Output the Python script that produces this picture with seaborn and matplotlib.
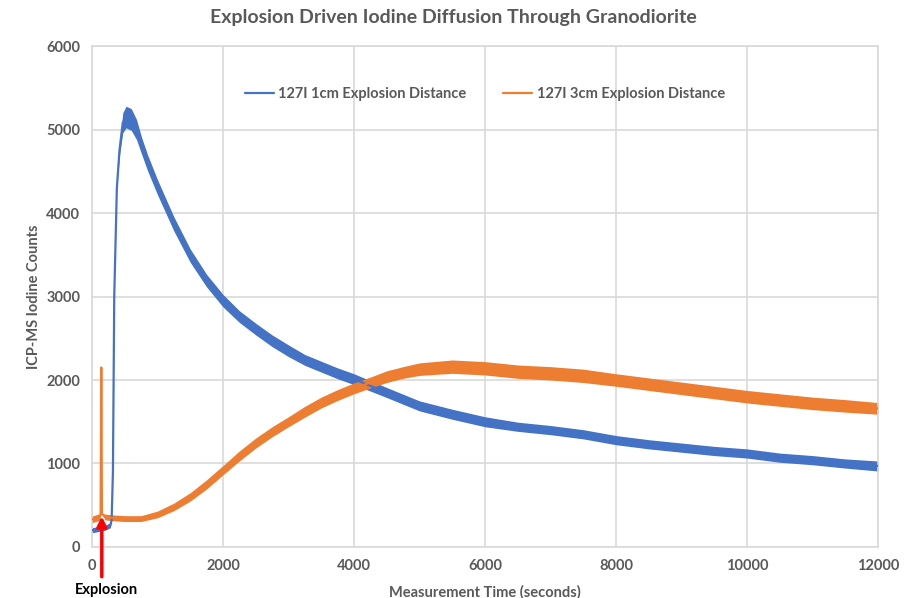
import numpy as np
import pandas as pd
import matplotlib
matplotlib.use('Agg')
import matplotlib.pyplot as plt
import seaborn as sns

# values
time_1cm = [0, 100, 200, 280, 300, 320, 340, 380, 420, 470, 520, 600, 680, 760,
            850, 1000, 1250, 1500, 1750, 2000, 2250, 2500, 2750, 3000, 3250,
            3500, 3750, 4000, 4500, 5000, 5500, 6000, 6500, 7000, 7500, 8000,
            8500, 9000, 9500, 10000, 10500, 11000, 11500, 12000]
counts_1cm = [200, 215, 230, 260, 320, 900, 3000, 4300, 4750, 5080, 5150, 5120,
              5000, 4800, 4600, 4310, 3870, 3490, 3190, 2950, 2760, 2610, 2470,
              2350, 2240, 2160, 2080, 2010, 1850, 1690, 1590, 1500, 1440, 1400,
              1350, 1280, 1230, 1190, 1150, 1120, 1070, 1040, 1000, 970]
# half thickness of the noisy band
spread_1cm = [30, 30, 30, 30, 10, 0, 0, 0, 60, 120, 130, 130, 120, 100, 95, 90,
              85, 80, 75, 75, 70, 70, 70, 70, 65, 65, 65, 65, 60, 60, 60, 60, 55,
              55, 55, 55, 55, 55, 55, 55, 55, 55, 55, 60]

time_3cm = [0, 60, 120, 132, 142, 152, 200, 300, 500, 750, 1000, 1250, 1500,
            1750, 2000, 2250, 2500, 2750, 3000, 3250, 3500, 3750, 4000, 4250,
            4500, 4750, 5000, 5500, 6000, 6500, 7000, 7500, 8000, 8500, 9000,
            9500, 10000, 10500, 11000, 11500, 12000]
counts_3cm = [330, 345, 360, 380, 2150, 400, 360, 350, 340, 340, 390, 480, 600,
              750, 920, 1090, 1245, 1380, 1500, 1620, 1730, 1820, 1900, 1970,
              2040, 2090, 2130, 2160, 2140, 2100, 2080, 2050, 2000, 1950, 1900,
              1850, 1800, 1760, 1720, 1690, 1660]
spread_3cm = [40, 40, 40, 0, 0, 0, 35, 35, 35, 35, 40, 45, 50, 55, 55, 60, 60,
              60, 60, 65, 65, 65, 65, 65, 70, 70, 75, 80, 80, 80, 80, 80, 75, 75,
              75, 75, 75, 75, 75, 75, 70]

labels = ['127I 1cm Explosion Distance', '127I 3cm Explosion Distance']
colors = ['#4472C4', '#ED7D31']

df = pd.concat([
    pd.DataFrame({'time': time_1cm, 'counts': counts_1cm, 'spread': spread_1cm, 'series': labels[0]}),
    pd.DataFrame({'time': time_3cm, 'counts': counts_3cm, 'spread': spread_3cm, 'series': labels[1]}),
])

sns.set_style('white')
plt.rcParams['font.family'] = ['Lato', 'DejaVu Sans']
grey = '#595959'

fig = plt.figure(figsize=(9.07, 5.98), dpi=100)
ax = fig.add_axes([0.1014, 0.0853, 0.8666, 0.8377])

sns.lineplot(data=df, x='time', y='counts', hue='series', palette=colors,
             linewidth=1.6, ax=ax, zorder=3)
for lab, col in zip(labels, colors):
    sub = df[df.series == lab]
    ax.fill_between(sub.time, sub.counts - sub.spread, sub.counts + sub.spread,
                    color=col, lw=0, zorder=2)

ax.set_xlim(0, 12000)
ax.set_ylim(0, 6000)
ax.set_xticks(range(0, 12001, 2000))
ax.set_yticks(range(0, 6001, 1000))
ax.grid(True, color='#d9d9d9', lw=1.2)
for s in ax.spines.values():
    s.set_color('#d9d9d9')
    s.set_linewidth(1.2)
ax.tick_params(length=0, labelsize=10.5, labelcolor=grey)
ax.tick_params(axis='y', pad=8.5)
ax.tick_params(axis='x', pad=9)
for t in ax.get_xticklabels() + ax.get_yticklabels():
    t.set_fontweight('bold')

ax.set_xlabel('Measurement Time (seconds)', fontsize=10.5, fontweight='bold', color=grey, labelpad=8)
ax.set_ylabel('ICP-MS Iodine Counts', fontsize=10.5, fontweight='bold', color=grey, labelpad=4)
fig.suptitle('Explosion Driven Iodine Diffusion Through Granodiorite', fontsize=14,
             fontweight='bold', color=grey, y=0.985)

leg = ax.legend(loc='upper center', bbox_to_anchor=(0.5, 0.945), ncol=2, frameon=False,
                fontsize=10.5, handlelength=2.0, handletextpad=0.3, columnspacing=2.5)
for t in leg.get_texts():
    t.set_color(grey)
    t.set_fontweight('bold')

# explosion marker
ax.annotate('', xy=(150, 400), xytext=(150, -390),
            arrowprops=dict(arrowstyle='-|>', color='red', lw=2.5, mutation_scale=14),
            annotation_clip=False, zorder=5)
ax.text(220, -510, 'Explosion', ha='center', va='center', fontsize=10.5,
        fontweight='bold', color='black', clip_on=False)

fig.savefig('out.png', dpi=100)
